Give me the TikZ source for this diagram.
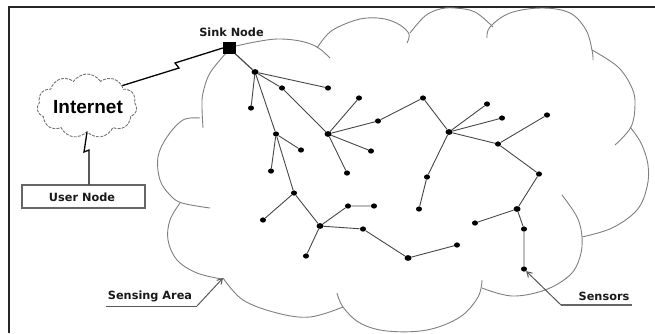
\documentclass[tikz,border=0pt]{standalone}
\usepackage{fontspec}
\newfontfamily\lblfont{DejaVu Sans}
\newfontfamily\netfont{Liberation Sans}
\usetikzlibrary{shapes.symbols,shapes.geometric,arrows.meta}
\begin{document}
\begin{tikzpicture}[x=1pt,y=-1pt,
  dot/.style={ellipse,fill=black,inner sep=0pt,minimum width=6.2pt,minimum height=5.2pt},
  hubdot/.style={ellipse,fill=black,inner sep=0pt,minimum width=7pt,minimum height=5.8pt},
  edge/.style={draw=black!72,line width=0.9pt},
  bump/.style={draw=black!50,line width=0.9pt},
  lbl/.style={font=\lblfont\bfseries\fontsize{11.3}{13}\selectfont,inner sep=0pt,text=black!90},
  bolt/.style={draw=black,line width=1.3pt},
  pointer/.style={draw=black!65,line width=1pt},
  underl/.style={draw=black!60,line width=1.6pt},
  netcloud/.style={cloud,cloud puffs=11,cloud puff arc=115,aspect=1.5,draw=black!55,
     dash pattern=on 3pt off 1.2pt,line width=0.9pt,inner sep=0pt,
     minimum width=100pt,minimum height=64pt},
  userbox/.style={draw=black!60,line width=1.2pt,minimum width=123pt,minimum height=23pt,inner sep=0pt},
  sinkbox/.style={fill=black,draw=black,minimum width=12pt,minimum height=11pt,inner sep=0pt}]
\useasboundingbox (0,0) rectangle (655,333);
\fill[white] (0,0) rectangle (655,333);
% frame
\draw[line width=1.3pt,black!85] (9,333) -- (9,7) -- (655,7);

% sensing area cloud
\draw[bump] plot[smooth,tension=0.6] coordinates {(236,46) (255,42) (277,39) (300,41) (317,47) (330,58)};
\draw[bump] plot[smooth,tension=0.6] coordinates {(317,48) (330,32) (350,22) (367,18) (385,19) (400,25) (409,34) (407,43)};
\draw[bump] plot[smooth,tension=0.6] coordinates {(410,33) (425,16) (440,9) (455,8) (475,12) (493,27)};
\draw[bump] plot[smooth,tension=0.6] coordinates {(487,38) (490,27) (510,13) (542,8) (570,13) (586,30) (592,50) (593,60)};
\draw[bump] plot[smooth,tension=0.6] coordinates {(592,50) (618,67) (632,88) (635,105) (631,127) (615,145)};
\draw[bump] plot[smooth,tension=0.6] coordinates {(630,127) (641,143) (648,165) (647,187) (637,210) (612,228) (582,237)};
\draw[bump] plot[smooth,tension=0.6] coordinates {(562,195) (577,217) (582,237) (580,257) (570,275) (545,290) (512,296) (482,288)};
\draw[bump] plot[smooth,tension=0.6] coordinates {(337,293) (343,307) (360,323) (387,331) (427,330) (460,317) (478,297) (482,280)};
\draw[bump] plot[smooth,tension=0.6] coordinates {(223,278) (243,300) (277,313) (310,317) (343,307)};
\draw[bump] plot[smooth,tension=0.6] coordinates {(180,203) (170,220) (168,240) (177,260) (197,273) (222,279)};
\draw[bump] plot[smooth,tension=0.6] coordinates {(200,118) (183,120) (167,137) (158,157) (160,180) (170,195) (182,203) (210,208)};
\draw[bump] plot[smooth,tension=0.6] coordinates {(227,52) (210,73) (203,93) (202,107) (203,128)};

% sink and internet side
\node[sinkbox] (sink) at (229,48) {};
\node[lbl] (sinklbl) at (231.5,32) {Sink Node};
\node[netcloud] (inet) at (87,106) {};
\node[font=\netfont\bfseries\fontsize{19}{22}\selectfont,inner sep=0pt] (inettxt) at (88,107) {Internet};
\node[userbox] (user) at (83.5,196.5) {};
\node[lbl] (userlbl) at (82,197) {User Node};

\coordinate (b1) at (179,68);
\coordinate (b2) at (175,63);
\draw[bolt] (inet.30) -- (b1) -- (b2) -- (sink.west);
\coordinate (v1) at (84,152);
\coordinate (v2) at (89,150);
\draw[bolt] (inet.south) -- (v1) -- (v2) -- (user.north -| v2);

% sensor nodes
\node[hubdot] (n1) at (255,72) {};
\node[dot] (n2) at (282,88) {};
\node[dot] (n3) at (328,88) {};
\node[dot] (n4) at (251,108) {};
\node[hubdot] (n5) at (328,134) {};
\node[dot] (n6) at (276,134) {};
\node[dot] (n7) at (301,150) {};
\node[dot] (n8) at (359,98) {};
\node[dot] (n9) at (378,121) {};
\node[dot] (n10) at (423,98) {};
\node[dot] (n11) at (371,151) {};
\node[dot] (n12) at (347,173) {};
\node[hubdot] (n13) at (449,132) {};
\node[dot] (n14) at (487,104) {};
\node[dot] (n15) at (502,118) {};
\node[dot] (n16) at (498,144) {};
\node[dot] (n17) at (547,115) {};
\node[dot] (n18) at (427,177) {};
\node[dot] (n19) at (271,171) {};
\node[dot] (n20) at (294,193) {};
\node[dot] (n21) at (263,220) {};
\node[hubdot] (n22) at (320,226) {};
\node[dot] (n23) at (348,206) {};
\node[dot] (n24) at (374,206) {};
\node[dot] (n25) at (363,229) {};
\node[dot] (n26) at (306,256) {};
\node[hubdot] (n27) at (408,258) {};
\node[dot] (n28) at (457,245) {};
\node[dot] (n29) at (419,209) {};
\node[dot] (n30) at (539,174) {};
\node[hubdot] (n31) at (517,209) {};
\node[dot] (n32) at (475,223) {};
\node[dot] (n33) at (524,229) {};
\node[dot] (n34) at (524,269) {};

\draw[edge,line width=1.2pt] (sink) -- (n1);
\draw[edge] (n1) -- (n3);
\draw[edge] (n1) -- (n2) -- (n5);
\draw[edge] (n1) -- (n4);
\draw[edge] (n1) -- (n6);
\draw[edge] (n6) -- (n7);
\draw[edge] (n6) -- (n19);
\draw[edge] (n6) -- (n20);
\draw[edge] (n5) -- (n8);
\draw[edge] (n5) -- (n9) -- (n10) -- (n13);
\draw[edge] (n5) -- (n11);
\draw[edge] (n5) -- (n12);
\draw[edge] (n13) -- (n14);
\draw[edge] (n13) -- (n15);
\draw[edge] (n13) -- (n16) -- (n17);
\draw[edge] (n16) -- (n30) -- (n31);
\draw[edge] (n13) -- (n18) -- (n29);
\draw[edge] (n31) -- (n32);
\draw[edge] (n31) -- (n33) -- (n34);
\draw[edge] (n20) -- (n21);
\draw[edge] (n20) -- (n22);
\draw[edge] (n22) -- (n23) -- (n24);
\draw[edge] (n22) -- (n25) -- (n27) -- (n28);
\draw[edge] (n22) -- (n26);

% labels with pointers
\node[lbl] (salbl) at (150,296) {Sensing Area};
\coordinate (sa1) at (106,306);
\coordinate (sa2) at (197,306);
\coordinate (satip) at (223,278);
\draw[pointer] (sa1) -- (sa2);
\draw[pointer,-{Straight Barb[length=5pt,width=6pt]}] (sa2) -- (satip);

\node[lbl] (senslbl) at (604,296) {Sensors};
\coordinate (se1) at (632,305);
\coordinate (se2) at (561,305);
\draw[underl] (se1) -- (se2);
\draw[pointer,-{Straight Barb[length=5pt,width=6pt]}] (se2) -- (n34);
\end{tikzpicture}
\end{document}
